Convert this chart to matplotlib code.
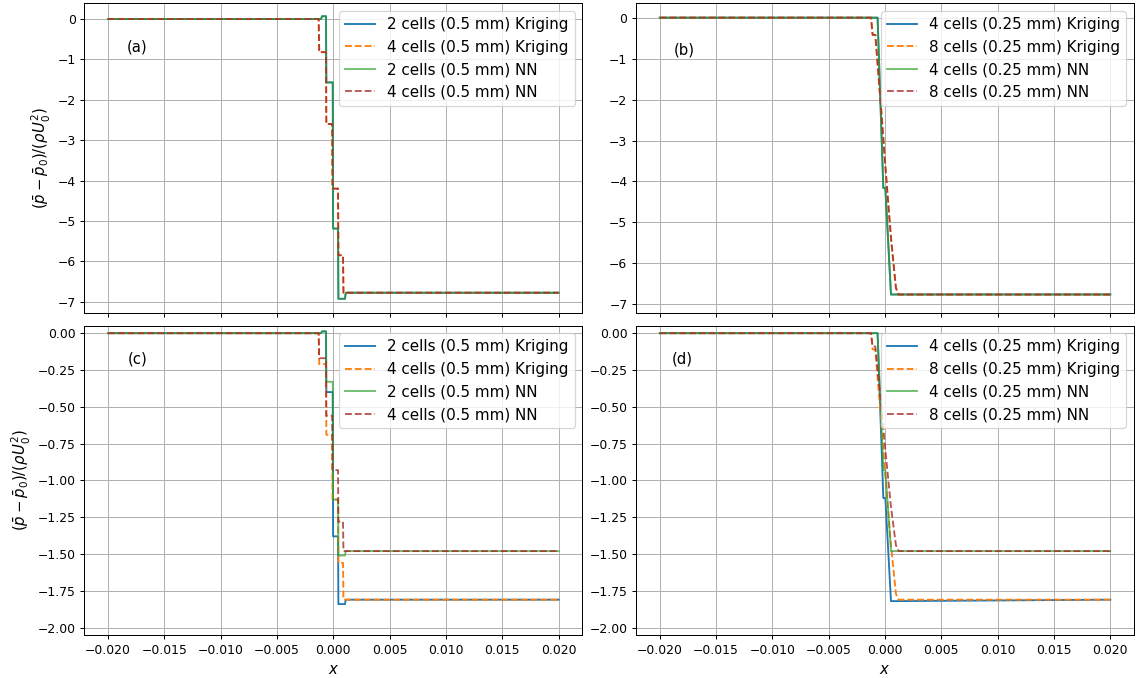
import matplotlib

matplotlib.use("Agg")

import matplotlib.pyplot as plt

# ---- data ----
# left column: 0.5 mm shock width
x_2c = [-0.020, -0.00109, -0.00100, -0.00065, -0.00062, -0.00005, -0.00002, 0.00042, 0.00045, 0.00104, 0.00110, 0.020]
x_4c = [-0.020, -0.00130, -0.00125, -0.00065, -0.00062, -0.00010, -0.00007, 0.00042, 0.00045, 0.00086, 0.00090, 0.020]

a_2c_kriging = [0, 0, 0.07, 0.07, -1.57, -1.57, -5.19, -5.19, -6.93, -6.93, -6.78, -6.78]
a_4c_kriging = [0, 0, -0.82, -0.82, -2.60, -2.60, -4.20, -4.20, -5.85, -5.85, -6.78, -6.78]
a_2c_nn = [0, 0, 0.07, 0.07, -1.57, -1.57, -5.19, -5.19, -6.93, -6.93, -6.78, -6.78]
a_4c_nn = [0, 0, -0.82, -0.82, -2.60, -2.60, -4.20, -4.20, -5.85, -5.85, -6.78, -6.78]

c_2c_kriging = [0, 0, 0.012, 0.012, -0.40, -0.40, -1.38, -1.38, -1.84, -1.84, -1.81, -1.81]
c_4c_kriging = [0, 0, -0.21, -0.21, -0.69, -0.69, -1.13, -1.13, -1.56, -1.56, -1.81, -1.81]
c_2c_nn = [0, 0, 0.012, 0.012, -0.33, -0.33, -1.13, -1.13, -1.51, -1.51, -1.48, -1.48]
c_4c_nn = [0, 0, -0.17, -0.17, -0.56, -0.56, -0.93, -0.93, -1.28, -1.28, -1.48, -1.48]

# right column: 0.25 mm shock width
x_4c_r = [-0.020, -0.00066, -0.00015, 0.00003, 0.00053, 0.020]
x_8c_r = [-0.020, -0.00124, -0.00110, -0.00086, -0.00035, 0.00009, 0.00053, 0.00097, 0.00120, 0.020]

b_4c_kriging = [0, 0, -4.16, -4.16, -6.76, -6.76]
b_8c_kriging = [0, 0, -0.42, -0.42, -2.21, -3.84, -5.38, -6.60, -6.76, -6.76]
b_4c_nn = [0, 0, -4.16, -4.16, -6.76, -6.76]
b_8c_nn = [0, 0, -0.42, -0.42, -2.21, -3.84, -5.38, -6.60, -6.76, -6.76]

d_4c_kriging = [0, 0, -1.12, -1.12, -1.82, -1.81]
d_8c_kriging = [0, 0, -0.11, -0.11, -0.59, -1.03, -1.44, -1.77, -1.81, -1.81]
d_4c_nn = [0, 0, -0.93, -0.93, -1.48, -1.48]
d_8c_nn = [0, 0, -0.09, -0.09, -0.48, -0.84, -1.18, -1.44, -1.48, -1.48]

labels_left = ["2 cells (0.5 mm) Kriging", "4 cells (0.5 mm) Kriging",
               "2 cells (0.5 mm) NN", "4 cells (0.5 mm) NN"]
labels_right = ["4 cells (0.25 mm) Kriging", "8 cells (0.25 mm) Kriging",
                "4 cells (0.25 mm) NN", "8 cells (0.25 mm) NN"]

panels = [
    ("(a)", x_2c, x_4c, [a_2c_kriging, a_4c_kriging, a_2c_nn, a_4c_nn], labels_left, (-7.27, 0.39), (0.106, 0.859)),
    ("(b)", x_4c_r, x_8c_r, [b_4c_kriging, b_8c_kriging, b_4c_nn, b_8c_nn], labels_right, (-7.20, 0.35), (0.097, 0.849)),
    ("(c)", x_2c, x_4c, [c_2c_kriging, c_4c_kriging, c_2c_nn, c_4c_nn], labels_left, (-2.05, 0.05), (0.106, 0.893)),
    ("(d)", x_4c_r, x_8c_r, [d_4c_kriging, d_8c_kriging, d_4c_nn, d_8c_nn], labels_right, (-2.05, 0.05), (0.093, 0.893)),
]

DPI = 88.9
fig, axes = plt.subplots(2, 2, figsize=(1143 / DPI, 678 / DPI), dpi=DPI, sharex=True)
fig.subplots_adjust(left=0.0738, right=0.9921, bottom=0.0634, top=0.9951, wspace=0.108, hspace=0.043)

ylabel = r"$(\bar{p} - \bar{p}_0)/(\rho U_0^2)$"

for ax, (tag, xa, xb, ys, labels, ylim, tpos) in zip(axes.ravel(), panels):
    ax.plot(xa, ys[0], color="C0", lw=1.5, label=labels[0])
    ax.plot(xb, ys[1], color="C1", lw=1.5, ls="--", label=labels[1])
    ax.plot(xa, ys[2], color="C2", lw=1.5, alpha=0.7, label=labels[2])
    ax.plot(xb, ys[3], color="#a52a2a", lw=1.5, ls="--", alpha=0.8, label=labels[3])
    ax.set_ylim(*ylim)
    ax.grid(True)
    ax.legend(loc="upper right", fontsize=12.3)
    ax.text(tpos[0], tpos[1], tag, transform=ax.transAxes, fontsize=12, ha="center", va="center")

axes[0, 0].set_xlim(-0.0221, 0.0221)
axes[0, 0].set_ylabel(ylabel, fontsize=12)
axes[1, 0].set_ylabel(ylabel, fontsize=12)
axes[1, 0].set_xlabel("$x$", fontsize=12)
axes[1, 1].set_xlabel("$x$", fontsize=12)

fig.savefig("out.png", dpi=DPI)
